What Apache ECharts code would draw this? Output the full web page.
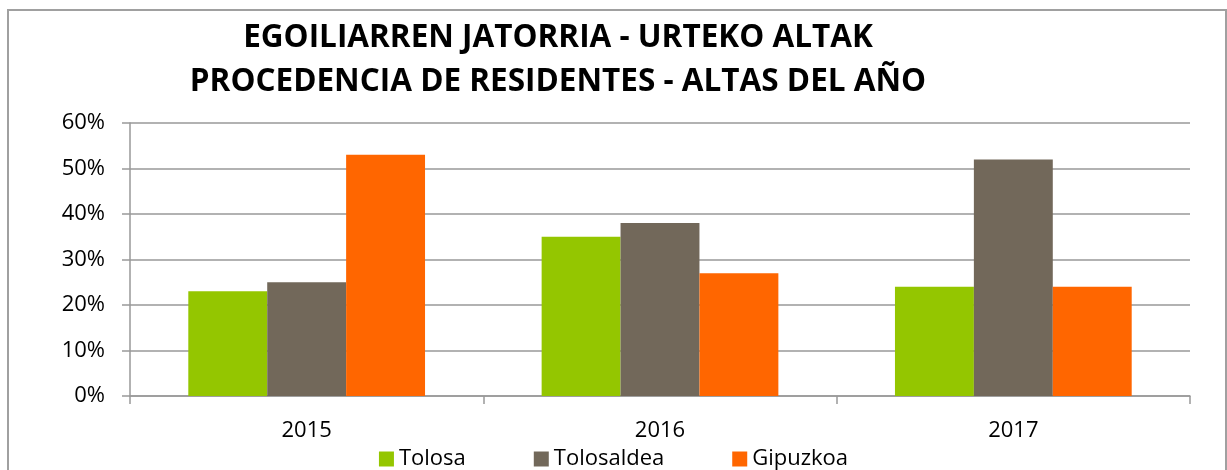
<!DOCTYPE html>
<html>
<head>
<meta charset="utf-8">
<script src="https://cdn.jsdelivr.net/npm/echarts@6/dist/echarts.min.js"></script>
<style>
  html, body { margin: 0; padding: 0; background: #fff; }
  #chart { width: 1227px; height: 470px; }
</style>
</head>
<body>
<div id="chart"></div>
<script>
// data
const years = ['2015', '2016', '2017']
const tolosa = [23, 35, 24]
const tolosaldea = [25, 38, 52]
const gipuzkoa = [53, 27, 24]
const titleLines = ['EGOILIARREN JATORRIA - URTEKO ALTAK', 'PROCEDENCIA DE RESIDENTES - ALTAS DEL AÑO']

const font = 'Open Sans'
const chart = echarts.init(document.getElementById('chart'))

function bar(name, data, color) {
  return {
    name: name,
    type: 'bar',
    data: data,
    barGap: 0,
    barCategoryGap: '33%',
    itemStyle: { color: color }
  }
}

// title is a bit left of the page centre, so it is placed as graphic text
const titleText = titleLines.map((line, i) => ({
  type: 'text',
  x: 558,
  y: 38 + i * 44,
  silent: true,
  style: {
    text: line,
    align: 'center',
    verticalAlign: 'middle',
    fontFamily: font,
    fontWeight: 'bold',
    fontSize: 31.5,
    fill: '#000'
  }
}))

chart.setOption({
  animation: false,
  backgroundColor: '#fff',
  graphic: [{
    type: 'rect',
    shape: { x: 8, y: 10, width: 1218, height: 470 },
    style: { fill: 'none', stroke: '#a0a0a0', lineWidth: 2 },
    silent: true
  }].concat(titleText),
  legend: {
    top: 443,
    left: 'center',
    itemWidth: 15,
    itemHeight: 15,
    itemGap: 68,
    icon: 'rect',
    textStyle: { fontFamily: font, fontSize: 22, color: '#000' },
    data: ['Tolosa', 'Tolosaldea', 'Gipuzkoa']
  },
  grid: {
    left: 130,
    right: 37,
    top: 123,
    bottom: 74
  },
  xAxis: {
    type: 'category',
    data: years,
    axisLine: { lineStyle: { color: '#999', width: 1.5 } },
    axisTick: { show: true, length: 8, lineStyle: { color: '#999', width: 1.5 } },
    axisLabel: { fontFamily: font, fontSize: 22, color: '#000', margin: 24 }
  },
  yAxis: {
    type: 'value',
    min: 0,
    max: 60,
    interval: 10,
    axisLine: { show: true, lineStyle: { color: '#999', width: 1.5 } },
    axisTick: { show: true, length: 8, lineStyle: { color: '#999', width: 1.5 } },
    axisLabel: {
      fontFamily: font,
      fontSize: 22,
      color: '#000',
      margin: 25,
      formatter: '{value}%'
    },
    splitLine: { lineStyle: { color: '#999', width: 1.5 } }
  },
  series: [
    bar('Tolosa', tolosa, '#94C600'),
    bar('Tolosaldea', tolosaldea, '#72685A'),
    bar('Gipuzkoa', gipuzkoa, '#FF6600')
  ]
})
</script>
</body>
</html>
